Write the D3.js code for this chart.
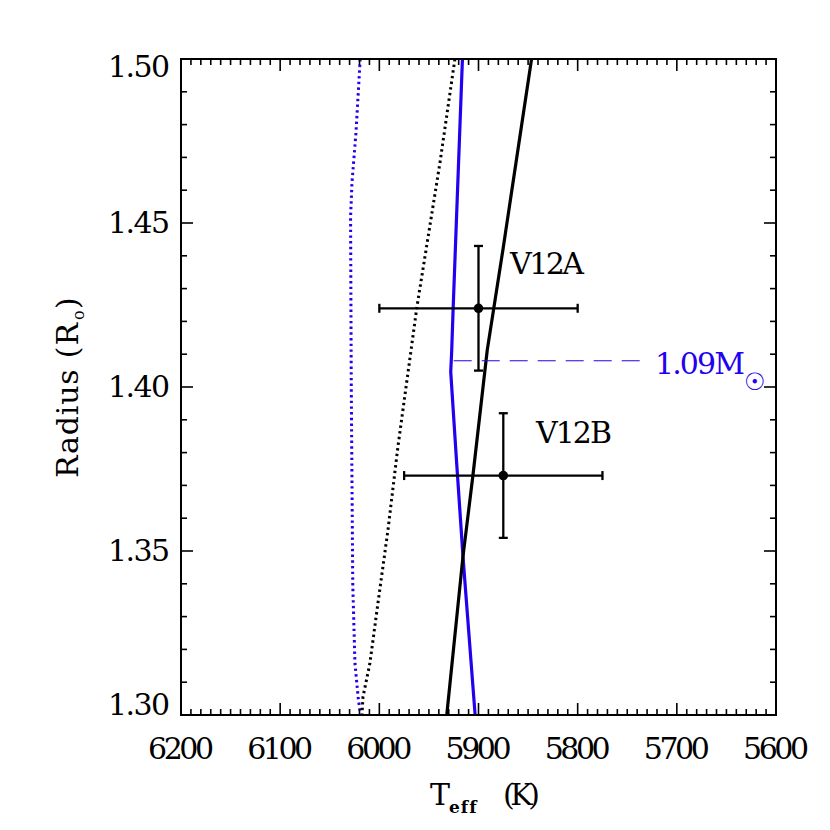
<!DOCTYPE html>
<html>
<head>
<meta charset="utf-8">
<script src="https://cdn.jsdelivr.net/npm/d3@7"></script>
<style>
  html, body { margin: 0; padding: 0; background: #fff; }
  svg { display: block; }
  text { font-family: "DejaVu Serif", "Liberation Serif", serif; }
</style>
</head>
<body>
<svg id="chart" width="830" height="830"></svg>
<script>
// ---------- data ----------
const xTickValues = [6200, 6100, 6000, 5900, 5800, 5700, 5600];
const yTickValues = [1.30, 1.35, 1.40, 1.45, 1.50];
const yTickLabels = ["1.30", "1.35", "1.40", "1.45", "1.50"];

// 1.09 Msun track (blue solid)
const blueSolidT = [5916.2, 5925.5, 5927.0, 5928.0, 5922.0, 5915.4, 5903.4];
const blueSolidR = [1.500, 1.4245, 1.4112, 1.4046, 1.3767, 1.3473, 1.300];

// blue dotted track
const blueDotT = [6019.3, 6023.6, 6027.6, 6029.0, 6028.3, 6026.8, 6024.6, 6021.4, 6019.0];
const blueDotR = [1.500, 1.4774, 1.4622, 1.4518, 1.400, 1.340, 1.3158, 1.3055, 1.300];

// black solid track
const blackSolidT = [5846.5, 5875.4, 5891.2, 5905.6, 5915.7, 5932.0];
const blackSolidR = [1.500, 1.4418, 1.4112, 1.3731, 1.3482, 1.300];

// black dotted track
const blackDotT = [5923.8, 5938.9, 5962.1, 5981.3, 5991.3, 6001.4, 6009.5, 6016.5, 6017.5];
const blackDotR = [1.500, 1.4683, 1.4244, 1.3817, 1.3564, 1.3341, 1.3158, 1.3055, 1.300];

// stars
const starNames = ["V12A", "V12B"];
const starT = [5900, 5875];
const starTerr = [100, 100];
const starR = [1.424, 1.373];
const starRerr = [0.019, 0.019];

// mass marker
const massLabel = "1.09";
const massR = 1.408;
const massT0 = 5925;
const massT1 = 5737;

// ---------- layout ----------
const svg = d3.select("#chart");
const L = 181, R = 776, T = 59, B = 715;
const x = d3.scaleLinear().domain([6200, 5600]).range([L, R]);
const y = d3.scaleLinear().domain([1.30, 1.50]).range([B, T]);
const blue = "#2200f0";
const FS = 30;

svg.append("defs").append("clipPath").attr("id", "clip")
  .append("rect").attr("x", L).attr("y", T).attr("width", R - L).attr("height", B - T);

const plot = svg.append("g").attr("clip-path", "url(#clip)");

const line = d3.line().x(d => x(d[0])).y(d => y(d[1]));
const zipTR = (ts, rs) => ts.map((t, i) => [t, rs[i]]);

// tracks
plot.append("path").attr("d", line(zipTR(blueDotT, blueDotR)))
  .attr("fill", "none").attr("stroke", blue).attr("stroke-width", 3)
  .attr("stroke-dasharray", "2.4,3.3");
plot.append("path").attr("d", line(zipTR(blackDotT, blackDotR)))
  .attr("fill", "none").attr("stroke", "#000").attr("stroke-width", 3)
  .attr("stroke-dasharray", "2.4,3.3");
plot.append("path").attr("d", line(zipTR(blueSolidT, blueSolidR)))
  .attr("fill", "none").attr("stroke", blue).attr("stroke-width", 3.2);
plot.append("path").attr("d", line(zipTR(blackSolidT, blackSolidR)))
  .attr("fill", "none").attr("stroke", "#000").attr("stroke-width", 3.2);

// mass dashed line
plot.append("line")
  .attr("x1", x(massT0)).attr("x2", x(massT1))
  .attr("y1", y(massR)).attr("y2", y(massR))
  .attr("stroke", blue).attr("stroke-width", 1)
  .attr("stroke-dasharray", "18,10");

// error bars
const cap = 4.5;
starNames.forEach((name, i) => {
  const cx = x(starT[i]), cy = y(starR[i]);
  const x0 = x(starT[i] + starTerr[i]), x1 = x(starT[i] - starTerr[i]);
  const y0 = y(starR[i] - starRerr[i]), y1 = y(starR[i] + starRerr[i]);
  const g = svg.append("g").attr("stroke", "#000").attr("stroke-width", 2.3);
  g.append("line").attr("x1", x0).attr("x2", x1).attr("y1", cy).attr("y2", cy);
  g.append("line").attr("x1", x0).attr("x2", x0).attr("y1", cy - cap).attr("y2", cy + cap);
  g.append("line").attr("x1", x1).attr("x2", x1).attr("y1", cy - cap).attr("y2", cy + cap);
  g.append("line").attr("x1", cx).attr("x2", cx).attr("y1", y0).attr("y2", y1);
  g.append("line").attr("x1", cx - cap).attr("x2", cx + cap).attr("y1", y0).attr("y2", y0);
  g.append("line").attr("x1", cx - cap).attr("x2", cx + cap).attr("y1", y1).attr("y2", y1);
  svg.append("circle").attr("cx", cx).attr("cy", cy).attr("r", 4.8).attr("fill", "#000");
});

// star labels
svg.append("text").attr("x", 510).attr("y", 274)
  .attr("font-size", FS).attr("fill", "#000")
  .attr("textLength", 74).attr("lengthAdjust", "spacing").text(starNames[0]);
svg.append("text").attr("x", 536).attr("y", 443)
  .attr("font-size", FS).attr("fill", "#000")
  .attr("textLength", 76).attr("lengthAdjust", "spacing").text(starNames[1]);

// mass label
svg.append("text").attr("x", 655).attr("y", 374)
  .attr("font-size", FS).attr("fill", blue)
  .attr("textLength", 90).attr("lengthAdjust", "spacing").text(massLabel + "M");
svg.append("text").attr("x", 755).attr("y", 390).attr("text-anchor", "middle")
  .attr("font-size", 24).attr("fill", blue).text("\u2609");

// ---------- axes ----------
const minorX = d3.range(6200, 5599, -10);
const minorY = d3.range(130, 151).map(v => v / 100);
const axG = svg.append("g").attr("stroke", "#000").attr("stroke-width", 1.6);

minorX.forEach(v => {
  const major = xTickValues.includes(v);
  const len = major ? 12 : 6;
  axG.append("line").attr("x1", x(v)).attr("x2", x(v)).attr("y1", B).attr("y2", B - len);
  axG.append("line").attr("x1", x(v)).attr("x2", x(v)).attr("y1", T).attr("y2", T + len);
});
minorY.forEach(v => {
  const major = yTickValues.some(t => Math.abs(t - v) < 1e-6);
  const len = major ? 12 : 6;
  axG.append("line").attr("x1", L).attr("x2", L + len).attr("y1", y(v)).attr("y2", y(v));
  axG.append("line").attr("x1", R).attr("x2", R - len).attr("y1", y(v)).attr("y2", y(v));
});

svg.append("rect").attr("x", L).attr("y", T).attr("width", R - L).attr("height", B - T)
  .attr("fill", "none").attr("stroke", "#000").attr("stroke-width", 2);

// tick labels
xTickValues.forEach(v => {
  svg.append("text").attr("x", x(v) - 33).attr("y", 759)
    .attr("font-size", FS).attr("fill", "#000")
    .attr("textLength", 66).attr("lengthAdjust", "spacing").text(String(v));
});
yTickValues.forEach((v, i) => {
  let off = 0;
  if (i === 0) off = -10;
  if (i === yTickValues.length - 1) off = 8;
  svg.append("text").attr("x", 108).attr("y", y(v) + 10 + off)
    .attr("font-size", FS).attr("fill", "#000")
    .attr("textLength", 62).attr("lengthAdjust", "spacing").text(yTickLabels[i]);
});

// axis titles
svg.append("text").attr("x", 430).attr("y", 805).attr("font-size", FS).attr("fill", "#000").text("T");
svg.append("text").attr("x", 449).attr("y", 813).attr("font-size", 17).attr("font-weight", "bold")
  .attr("letter-spacing", 1).style("font-variant-ligatures", "none")
  .attr("fill", "#000").text("eff");
svg.append("text").attr("x", 503).attr("y", 805).attr("font-size", FS).attr("fill", "#000")
  .attr("textLength", 37).attr("lengthAdjust", "spacing").text("(K)");

const yt = svg.append("g").attr("transform", "translate(78,478) rotate(-90)");
yt.append("text").attr("x", 0).attr("y", 0).attr("font-size", FS).attr("fill", "#000")
  .attr("textLength", 155).attr("lengthAdjust", "spacing").text("Radius (R");
yt.append("text").attr("x", 158).attr("y", 6).attr("font-size", 16).attr("fill", "#000").text("o");
yt.append("text").attr("x", 169).attr("y", 0).attr("font-size", FS).attr("fill", "#000").text(")");
</script>
</body>
</html>
